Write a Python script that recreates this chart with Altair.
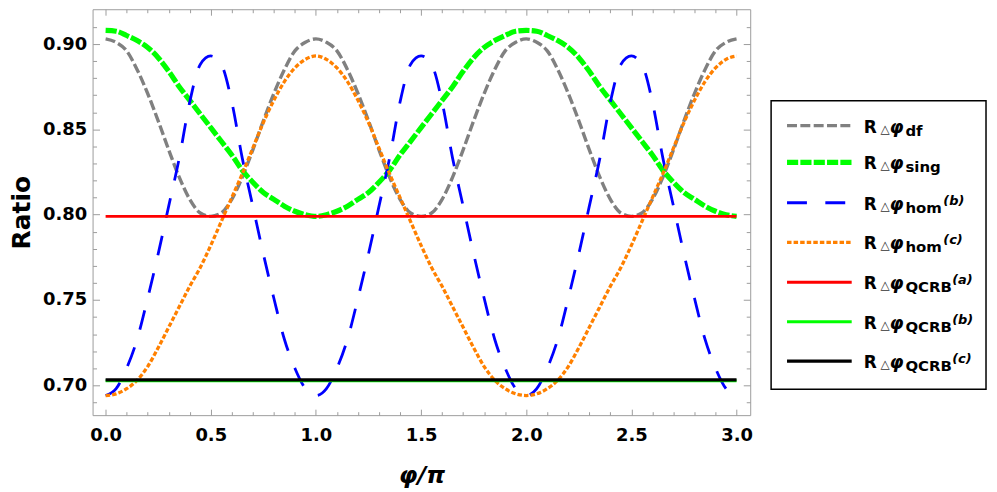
import altair as alt
import pandas as pd

# ---------------- data ----------------
phi = [0.00, 0.05, 0.10, 0.15, 0.20, 0.25, 0.30, 0.35, 0.40, 0.45,
       0.50, 0.55, 0.60, 0.65, 0.70, 0.75, 0.80, 0.85, 0.90, 0.95,
       1.00, 1.05, 1.10, 1.15, 1.20, 1.25, 1.30, 1.35, 1.40, 1.45,
       1.50, 1.55, 1.60, 1.65, 1.70, 1.75, 1.80, 1.85, 1.90, 1.95,
       2.00, 2.05, 2.10, 2.15, 2.20, 2.25, 2.30, 2.35, 2.40, 2.45,
       2.50, 2.55, 2.60, 2.65, 2.70, 2.75, 2.80, 2.85, 2.90, 2.95,
       3.00]

ratio_df = [0.903, 0.901, 0.896, 0.885, 0.871, 0.855, 0.838, 0.822, 0.809, 0.801,
            0.799, 0.801, 0.809, 0.822, 0.838, 0.855, 0.871, 0.885, 0.896, 0.901,
            0.903, 0.901, 0.896, 0.885, 0.871, 0.855, 0.838, 0.822, 0.809, 0.801,
            0.799, 0.801, 0.809, 0.822, 0.838, 0.855, 0.871, 0.885, 0.896, 0.901,
            0.903, 0.901, 0.896, 0.885, 0.871, 0.855, 0.838, 0.822, 0.809, 0.801,
            0.799, 0.801, 0.809, 0.822, 0.838, 0.855, 0.871, 0.885, 0.896, 0.901,
            0.903]

ratio_sing = [0.908, 0.9075, 0.905, 0.902, 0.898, 0.892, 0.884, 0.875, 0.867, 0.859,
              0.851, 0.843, 0.835, 0.826, 0.819, 0.813, 0.809, 0.805, 0.802, 0.800,
              0.799, 0.800, 0.802, 0.805, 0.809, 0.813, 0.819, 0.826, 0.835, 0.843,
              0.851, 0.859, 0.867, 0.875, 0.884, 0.892, 0.898, 0.902, 0.905, 0.9075,
              0.908, 0.9075, 0.905, 0.902, 0.898, 0.892, 0.884, 0.875, 0.867, 0.859,
              0.851, 0.843, 0.835, 0.826, 0.819, 0.813, 0.809, 0.805, 0.802, 0.800,
              0.799]

ratio_hom_b = [0.694, 0.698, 0.710, 0.727, 0.751, 0.777, 0.805, 0.833, 0.866, 0.888,
               0.893, 0.888, 0.866, 0.833, 0.805, 0.777, 0.751, 0.727, 0.710, 0.698,
               0.694, 0.698, 0.710, 0.727, 0.751, 0.777, 0.805, 0.833, 0.866, 0.888,
               0.893, 0.888, 0.866, 0.833, 0.805, 0.777, 0.751, 0.727, 0.710, 0.698,
               0.694, 0.698, 0.710, 0.727, 0.751, 0.777, 0.805, 0.833, 0.866, 0.888,
               0.893, 0.888, 0.866, 0.833, 0.805, 0.777, 0.751, 0.727, 0.710, 0.698,
               0.694]

ratio_hom_c = [0.694, 0.695, 0.698, 0.703, 0.711, 0.722, 0.734, 0.746, 0.758, 0.769,
               0.782, 0.796, 0.810, 0.824, 0.839, 0.854, 0.867, 0.878, 0.886, 0.891,
               0.893, 0.891, 0.886, 0.878, 0.867, 0.854, 0.839, 0.824, 0.810, 0.796,
               0.782, 0.769, 0.758, 0.746, 0.734, 0.722, 0.711, 0.703, 0.698, 0.695,
               0.694, 0.695, 0.698, 0.703, 0.711, 0.722, 0.734, 0.746, 0.758, 0.769,
               0.782, 0.796, 0.810, 0.824, 0.839, 0.854, 0.867, 0.878, 0.886, 0.891,
               0.893]

phi_ends = [0.0, 3.0]
qcrb_a = 0.799
qcrb_b = 0.7026
qcrb_c = 0.7032

x_major = [0.0, 0.5, 1.0, 1.5, 2.0, 2.5, 3.0]
x_minor = [0.1, 0.2, 0.3, 0.4, 0.6, 0.7, 0.8, 0.9, 1.1, 1.2, 1.3, 1.4, 1.6, 1.7, 1.8, 1.9,
           2.1, 2.2, 2.3, 2.4, 2.6, 2.7, 2.8, 2.9]
y_major = [0.70, 0.75, 0.80, 0.85, 0.90]
y_minor = [0.69, 0.71, 0.72, 0.73, 0.74, 0.76, 0.77, 0.78, 0.79, 0.81, 0.82, 0.83, 0.84,
           0.86, 0.87, 0.88, 0.89, 0.91]

legend_sub = ["df", "sing", "hom", "hom", "QCRB", "QCRB", "QCRB"]
legend_sup = ["", "", "(b)", "(c)", "(a)", "(b)", "(c)"]

# ---------------- styling / layout ----------------
FONT = "DejaVu Sans"
FRAME = "#9c9c9c"
W, H = 661, 408
xs = alt.Scale(domain=[-0.062, 3.065], nice=False, zero=False)
ys = alt.Scale(domain=[0.6825, 0.9204], nice=False, zero=False)

def tick_axis(orient, values, size, **kw):
    return alt.Axis(orient=orient, values=values, offset=-size, tickSize=size,
                    tickColor=FRAME, tickWidth=1, domain=False, grid=False, **kw)

ax_x_bottom = tick_axis("bottom", x_major, 6, format=".1f", labelFont=FONT,
                        labelFontWeight="bold", labelFontSize=18, labelColor="black",
                        labelPadding=11, labelFlush=False, labelOverlap=False,
                        titleFont=FONT, titleFontSize=24, titleFontWeight="bold",
                        titleFontStyle="italic", titleColor="black", titlePadding=20)
ax_x_bottom_minor = tick_axis("bottom", x_minor, 3.5, labels=False)
ax_x_top = tick_axis("top", x_major, 6, labels=False)
ax_x_top_minor = tick_axis("top", x_minor, 3.5, labels=False)

ax_y_left = tick_axis("left", y_major, 7, format=".2f", labelFont=FONT,
                      labelFontWeight="bold", labelFontSize=18, labelColor="black",
                      labelPadding=6, labelFlush=False, labelOverlap=False,
                      titleFont=FONT, titleFontSize=25, titleFontWeight="bold",
                      titleColor="black", titlePadding=8)
ax_y_left_minor = tick_axis("left", y_minor, 4, labels=False)
ax_y_right = tick_axis("right", y_major, 7, labels=False)
ax_y_right_minor = tick_axis("right", y_minor, 4, labels=False)

series = [
    # values, color, width, dash
    (ratio_df, "#808080", 3.4, [10, 3.4]),
    (ratio_sing, "#00ff00", 5.2, [11.2, 2.2]),
    (ratio_hom_b, "#0000ff", 2.8, [20, 18.5]),
    (ratio_hom_c, "#ff8000", 3.3, [4.5, 2.1]),
]
axes_for = [
    (ax_x_bottom, ax_y_left, "φ/π", "Ratio"),
    (ax_x_bottom_minor, ax_y_left_minor, None, None),
    (ax_x_top, ax_y_right, None, None),
    (ax_x_top_minor, ax_y_right_minor, None, None),
]

layers = []
for (vals, color, width, dash), (axx, axy, tx, ty) in zip(series, axes_for):
    d = pd.DataFrame({"phi": phi, "ratio": vals})
    layers.append(
        alt.Chart(d).mark_line(color=color, strokeWidth=width, strokeDash=dash,
                               interpolate="monotone", clip=True)
        .encode(x=alt.X("phi:Q", scale=xs, axis=axx, title=tx),
                y=alt.Y("ratio:Q", scale=ys, axis=axy, title=ty))
    )

flat = [
    (qcrb_a, "#ff0000", 3.0),
    (qcrb_b, "#00ff00", 3.0),
    (qcrb_c, "#000000", 3.3),
]
for val, color, width in flat:
    d = pd.DataFrame({"phi": phi_ends, "ratio": [val, val]})
    layers.append(
        alt.Chart(d).mark_line(color=color, strokeWidth=width)
        .encode(x=alt.X("phi:Q", scale=xs, axis=None),
                y=alt.Y("ratio:Q", scale=ys, axis=None))
    )

# ---------------- legend (drawn in pixel space to the right of the plot) ----------------
row_y = [117, 154, 194.5, 234.3, 274.3, 314, 353.7]
sup_x = [0, 0, 855, 855, 864, 864, 864]
leg = pd.DataFrame({
    "row": list(range(7)),
    "ly": row_y,
    "ty": [v + 7 for v in row_y],
    "sy": [v + 10 for v in row_y],
    "uy": [v + 2 for v in row_y],
    "sub": legend_sub,
    "sup": legend_sup,
    "ux": sup_x,
})

box = alt.Chart(pd.DataFrame({"k": [0]})).mark_rect(
    fill="white", stroke="black", strokeWidth=1.5
).encode(x=alt.value(682), x2=alt.value(898), y=alt.value(92), y2=alt.value(382))
layers.append(box)

sample_styles = [
    ("#808080", 3.4, [10, 3.4]),
    ("#00ff00", 5.2, [11.2, 2.2]),
    ("#0000ff", 2.8, [20, 18.5]),
    ("#ff8000", 3.3, [4.5, 2.1]),
    ("#ff0000", 3.0, None),
    ("#00ff00", 3.0, None),
    ("#000000", 3.3, None),
]
for i, (color, width, dash) in enumerate(sample_styles):
    kw = dict(color=color, strokeWidth=width)
    if dash:
        kw["strokeDash"] = dash
    layers.append(
        alt.Chart(leg).transform_filter(alt.datum.row == i).mark_rule(**kw)
        .encode(x=alt.value(698), x2=alt.value(763),
                y=alt.Y("ly:Q", scale=None, axis=None))
    )

def leg_text(text, x, yfield, size, weight="bold", style="normal", color="black"):
    return alt.Chart(leg).mark_text(
        text=text, font=FONT, fontSize=size, fontWeight=weight, fontStyle=style,
        color=color, align="left", baseline="alphabetic"
    ).encode(x=alt.value(x), y=alt.Y(f"{yfield}:Q", scale=None, axis=None))

layers.append(leg_text("R", 775, "ty", 17))
layers.append(leg_text("△", 792, "ty", 12, weight="normal", color="#333333"))
layers.append(leg_text("φ", 801, "ty", 18, style="italic"))
layers.append(
    alt.Chart(leg).mark_text(font=FONT, fontSize=15, fontWeight="bold", color="black",
                             align="left", baseline="alphabetic")
    .encode(x=alt.value(817), y=alt.Y("sy:Q", scale=None, axis=None), text="sub:N")
)
layers.append(
    alt.Chart(leg).transform_filter(alt.datum.sup != "").mark_text(
        font=FONT, fontSize=13, fontWeight="bold", fontStyle="italic", color="black",
        align="left", baseline="alphabetic")
    .encode(x=alt.X("ux:Q", scale=None, axis=None),
            y=alt.Y("uy:Q", scale=None, axis=None), text="sup:N")
)

chart = (
    alt.layer(*layers)
    .resolve_axis(x="independent", y="independent")
    .properties(width=W, height=H,
                padding={"left": 85, "top": 0, "right": 240, "bottom": 76},
                autosize=alt.AutoSizeParams(type="none"),
                background="white")
    .configure_view(stroke=FRAME, strokeWidth=1)
)

chart.save("out.html", embed_options={"renderer": "svg", "actions": False})
